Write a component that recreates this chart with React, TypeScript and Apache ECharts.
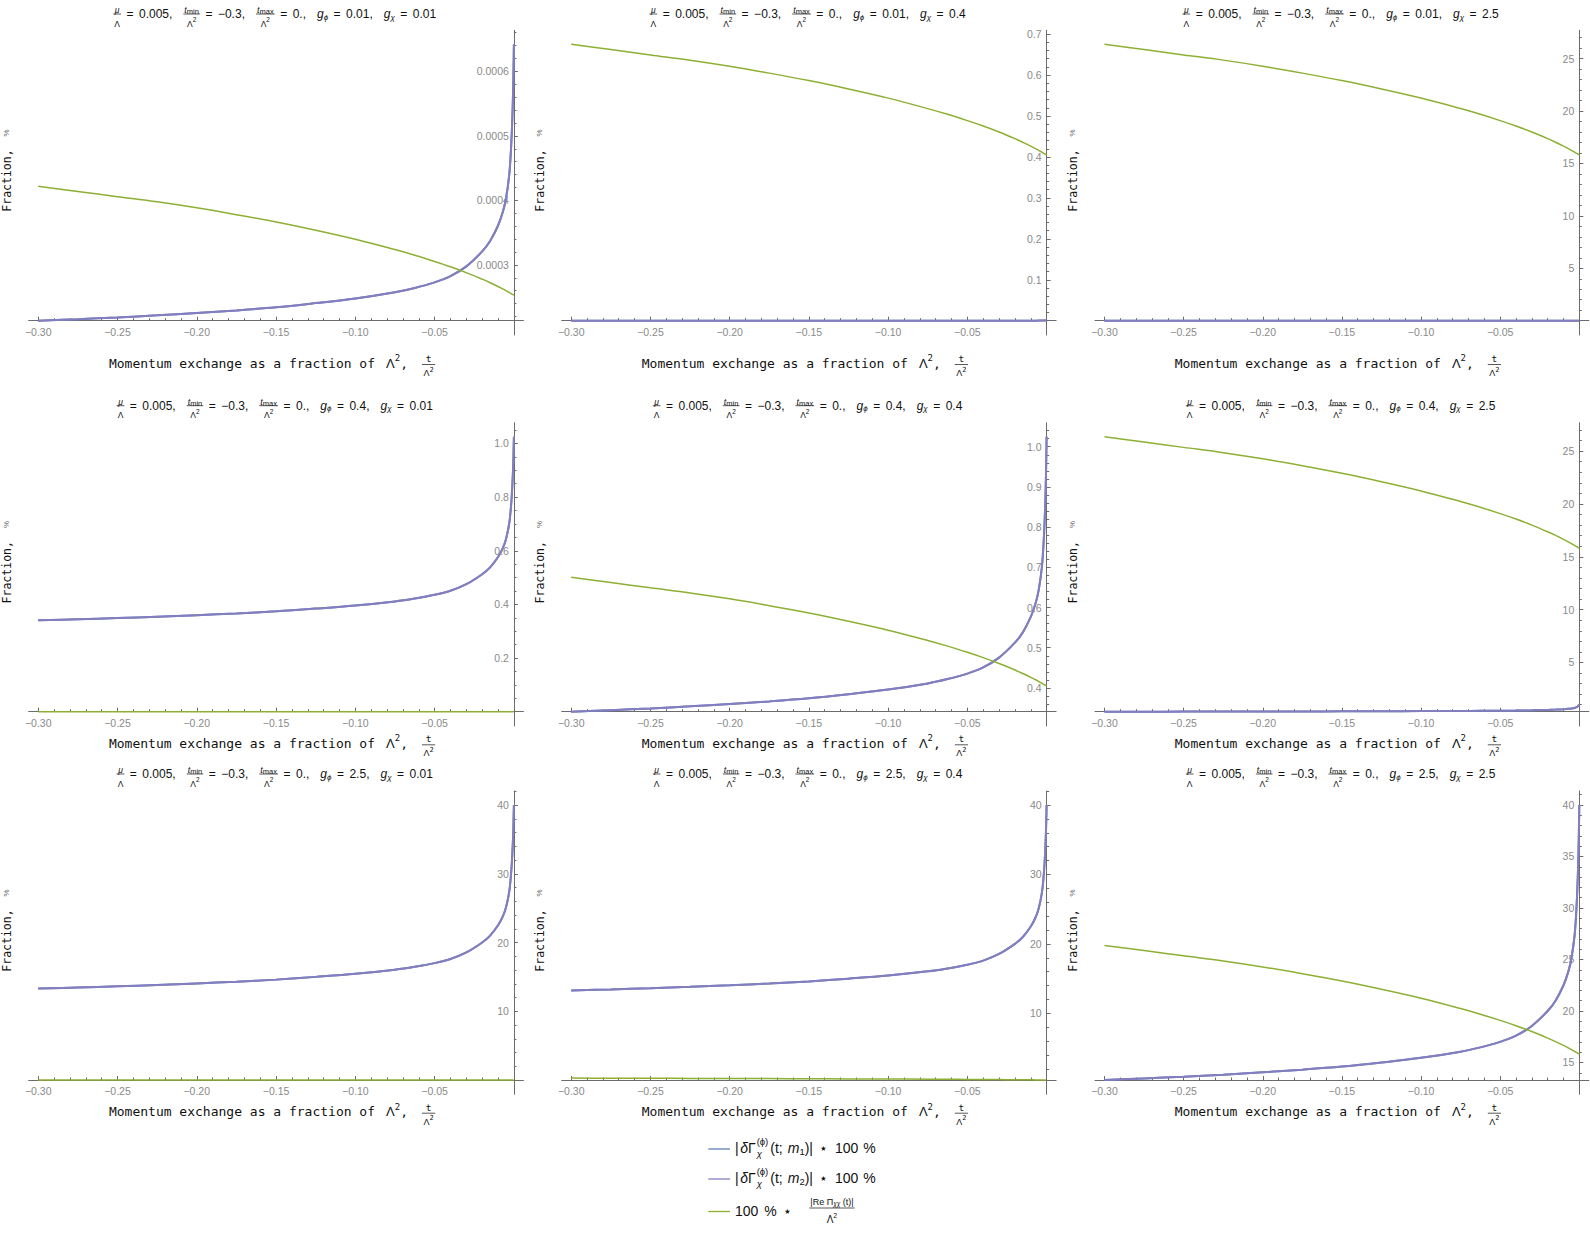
import React, { useEffect, useRef } from "react";
import * as echarts from "echarts";

// ---------------- values ----------------
const tValues = [
  -0.3, -0.275, -0.25, -0.225, -0.2, -0.175, -0.15, -0.125, -0.1, -0.075, -0.0625,
  -0.05, -0.04, -0.03, -0.02, -0.015, -0.01, -0.007, -0.005, -0.003, -0.002,
  -0.0013, -0.0008, -0.0004, -0.0002, 0,
];

// |δΓχ(ϕ)(t; m)| * 100 %  (depends on g_ϕ : one curve per row)
const purpleGphi001 = [
  0.0002135, 0.0002159, 0.0002186, 0.0002218, 0.0002255, 0.0002295, 0.0002343, 0.0002408, 0.000248, 0.0002576, 0.0002643,
  0.0002729, 0.0002825, 0.0002977, 0.000321, 0.000337, 0.0003611, 0.000382, 0.0004029, 0.0004382, 0.0004719,
  0.0005072, 0.0005425, 0.000581, 0.0006083, 0.000642,
];
const purpleGphi04 = [
  0.3409, 0.3447, 0.3491, 0.3542, 0.3601, 0.3665, 0.3742, 0.3844, 0.396, 0.4113, 0.4221,
  0.4357, 0.4511, 0.4754, 0.5126, 0.5382, 0.5766, 0.61, 0.6433, 0.6996, 0.7535,
  0.8098, 0.8662, 0.9277, 0.9713, 1.025,
];
const purpleGphi25 = [
  13.3, 13.45, 13.62, 13.82, 14.05, 14.3, 14.6, 15.0, 15.45, 16.05, 16.47,
  17.0, 17.6, 18.55, 20.0, 21.0, 22.5, 23.8, 25.1, 27.3, 29.4,
  31.6, 33.8, 36.2, 37.9, 40.0,
];

// 100 % * |Re Πχχ(t)| / Λ²  (depends on g_χ : one curve per column)
const greenGchi001 = [
  0.0004219, 0.0004139, 0.0004058, 0.0003978, 0.0003885, 0.0003779, 0.0003666, 0.0003538, 0.0003398, 0.0003238, 0.000315,
  0.0003054, 0.0002972, 0.0002881, 0.0002779, 0.0002724, 0.0002665, 0.0002627, 0.0002601, 0.0002573, 0.0002559,
  0.0002549, 0.0002542, 0.0002536, 0.0002533, 0.000253,
];
const greenGchi04 = [
  0.6751, 0.6623, 0.6492, 0.6364, 0.6216, 0.6047, 0.5865, 0.566, 0.5437, 0.5181, 0.5041,
  0.4887, 0.4755, 0.4609, 0.4447, 0.4358, 0.4264, 0.4204, 0.4161, 0.4117, 0.4094,
  0.4078, 0.4067, 0.4057, 0.4052, 0.4047,
];
const greenGchi25 = [
  26.37, 25.87, 25.36, 24.86, 24.28, 23.62, 22.91, 22.11, 21.24, 20.24, 19.69,
  19.09, 18.575, 18.005, 17.37, 17.024, 16.655, 16.42, 16.255, 16.083, 15.994,
  15.931, 15.885, 15.848, 15.829, 15.81,
];

const gPhiLabels = ["0.01", "0.4", "2.5"];
const gChiLabels = ["0.01", "0.4", "2.5"];

const xMajorTicks = [-0.3, -0.25, -0.2, -0.15, -0.1, -0.05];
const xMinorTicks = [
  -0.29, -0.28, -0.27, -0.26, -0.24, -0.23, -0.22, -0.21, -0.19, -0.18, -0.17, -0.16,
  -0.14, -0.13, -0.12, -0.11, -0.09, -0.08, -0.07, -0.06, -0.04, -0.03, -0.02, -0.01,
];

const yMajorTicks = [
  [0.0003, 0.0004, 0.0005, 0.0006],
  [0.1, 0.2, 0.3, 0.4, 0.5, 0.6, 0.7],
  [5, 10, 15, 20, 25],
  [0.2, 0.4, 0.6, 0.8, 1.0],
  [0.4, 0.5, 0.6, 0.7, 0.8, 0.9, 1.0],
  [5, 10, 15, 20, 25],
  [10, 20, 30, 40],
  [10, 20, 30, 40],
  [15, 20, 25, 30, 35, 40],
];
const yMinorStep = [0.00002, 0.02, 1, 0.05, 0.02, 1, 2, 2, 1];
const yLabelDecimals = [4, 1, 0, 1, 1, 0, 0, 0, 0];

const seriesNames = ["|δΓχ(ϕ)(t; m1)| * 100 %", "|δΓχ(ϕ)(t; m2)| * 100 %", "100 % * |Re Πχχ(t)| / Λ²"];

// ---------------- styling / layout ----------------
const W = 1590;
const H = 1233;
const FONT_SANS = "'Liberation Sans', Arial, Helvetica, sans-serif";
const FONT_MONO = "'DejaVu Sans Mono', 'Liberation Mono', monospace";
const COLOR_M1 = "#5E81B5";
const COLOR_M2 = "#847DC0";
const COLOR_GREEN = "#8DB034";
const AXIS_COLOR = "#6b6b6b";
const LABEL_COLOR = "#8a8a8a";
const TEXT_COLOR = "#111";

const X_MIN = -0.306;
const X_MAX = 0.006;
const colL = [38.2, 571.2, 1104.5];
const colR = [513.9, 1046.6, 1579.3];
const rowMaxPx = [44.3, 436.7, 805.0];
const rowMinPx = [320.7, 711.7, 1080.0];
const PAD_TOP = 14;
const PAD_BOT = 14.3;
const titleY = [14, 405.7, 774];
const xNameY = [363, 743.3, 1111.7];
const legendTextY = [1148, 1178, 1210.5];
const legendLineX = [708.3, 730];
const legendTextX = 735;

// ---------------- text layout helpers ----------------
type Atom = { t: string; size: number; it?: boolean; dy?: number; fam?: string; fill?: string; gap?: number; stack?: boolean };
type Piece =
  | { kind: "run"; run: Atom[]; gap?: number }
  | { kind: "frac"; num: Atom[]; den: Atom[]; numDy: number; denDy: number; barDy: number; pad?: number; gap?: number };

let measureCtx: CanvasRenderingContext2D | null = null;
function fontOf(a: Atom) {
  return `${a.it ? "italic " : ""}${a.size}px ${a.fam || FONT_SANS}`;
}
function measure(text: string, font: string) {
  if (!measureCtx) measureCtx = document.createElement("canvas").getContext("2d");
  if (!measureCtx) return text.length * 6;
  measureCtx.font = font;
  return measureCtx.measureText(text).width;
}
function runWidth(run: Atom[]) {
  let x = 0;
  let hold = 0;
  for (const a of run) {
    x += a.gap || 0;
    const w = measure(a.t, fontOf(a));
    if (a.stack) hold = Math.max(hold, w);
    else {
      x += Math.max(w, hold);
      hold = 0;
    }
  }
  return x + hold;
}
function textEl(t: string, x: number, y: number, font: string, fill: string) {
  return {
    type: "text",
    x,
    y,
    silent: true,
    style: { text: t, font, fill, textAlign: "left", textVerticalAlign: "middle", align: "left", verticalAlign: "middle" },
  };
}
function drawRun(run: Atom[], x0: number, y: number, out: any[], fill: string) {
  let x = x0;
  let hold = 0;
  for (const a of run) {
    x += a.gap || 0;
    const font = fontOf(a);
    const w = measure(a.t, font);
    out.push(textEl(a.t, x, y + (a.dy || 0), font, a.fill || fill));
    if (a.stack) hold = Math.max(hold, w);
    else {
      x += Math.max(w, hold);
      hold = 0;
    }
  }
  return x + hold - x0;
}
function pieceWidth(p: Piece) {
  if (p.kind === "run") return (p.gap || 0) + runWidth(p.run);
  return (p.gap || 0) + Math.max(runWidth(p.num), runWidth(p.den)) + 2 * (p.pad ?? 1);
}
function drawLine(pieces: Piece[], x0: number, y: number, out: any[], fill: string) {
  let x = x0;
  for (const p of pieces) {
    x += p.gap || 0;
    if (p.kind === "run") {
      x += drawRun(p.run, x, y, out, fill);
    } else {
      const nw = runWidth(p.num);
      const dw = runWidth(p.den);
      const pad = p.pad ?? 1;
      const w = Math.max(nw, dw) + 2 * pad;
      drawRun(p.num, x + (w - nw) / 2, y + p.numDy, out, fill);
      drawRun(p.den, x + (w - dw) / 2, y + p.denDy, out, fill);
      out.push({
        type: "line",
        silent: true,
        shape: { x1: x, y1: y + p.barDy, x2: x + w, y2: y + p.barDy },
        style: { stroke: fill, lineWidth: 0.7 },
      });
      x += w;
    }
  }
  return x - x0;
}
function drawCentered(pieces: Piece[], cx: number, y: number, out: any[], fill: string) {
  const total = pieces.reduce((s, p) => s + pieceWidth(p), 0);
  drawLine(pieces, cx - total / 2, y, out, fill);
}

function titlePieces(gphi: string, gchi: string): Piece[] {
  const s = 12;
  const gE = 5.5;
  const gC = 11;
  const lam2 = (sz: number): Atom[] => [{ t: "Λ", size: sz }, { t: "2", size: 6.5, dy: -4 }];
  return [
    { kind: "frac", num: [{ t: "μ", size: 8.5, it: true }], den: [{ t: "Λ", size: 8.5 }], numDy: -4, denDy: 9.5, barDy: 0, pad: 1 },
    { kind: "run", run: [{ t: "=", size: s, gap: gE }, { t: "0.005,", size: s, gap: gE }] },
    { kind: "frac", gap: gC, num: [{ t: "t", size: 9, it: true }, { t: "min", size: 7.5, dy: 1.5 }], den: lam2(8.5), numDy: -4, denDy: 9.5, barDy: 0, pad: 1 },
    { kind: "run", run: [{ t: "=", size: s, gap: gE }, { t: "\u22120.3,", size: s, gap: gE }] },
    { kind: "frac", gap: gC, num: [{ t: "t", size: 9, it: true }, { t: "max", size: 7.5, dy: 1.5 }], den: lam2(8.5), numDy: -4, denDy: 9.5, barDy: 0, pad: 1 },
    { kind: "run", run: [{ t: "=", size: s, gap: gE }, { t: "0.,", size: s, gap: gE }] },
    { kind: "run", gap: gC, run: [{ t: "g", size: s, it: true }, { t: "ϕ", size: 8, it: true, dy: 3 }] },
    { kind: "run", run: [{ t: "=", size: s, gap: gE }, { t: gphi + ",", size: s, gap: gE }] },
    { kind: "run", gap: gC, run: [{ t: "g", size: s, it: true }, { t: "χ", size: 8, it: true, dy: 3 }] },
    { kind: "run", run: [{ t: "=", size: s, gap: gE }, { t: gchi, size: s, gap: gE }] },
  ];
}

function xNamePieces(): Piece[] {
  const s = 13;
  return [
    {
      kind: "run",
      run: [
        { t: "Momentum exchange as a fraction of", size: s, fam: FONT_MONO },
        { t: "Λ", size: s, gap: 11 },
        { t: "2", size: 9, fam: FONT_MONO, dy: -5 },
        { t: ",", size: s, fam: FONT_MONO },
      ],
    },
    {
      kind: "frac",
      gap: 14,
      num: [{ t: "t", size: 9.5, fam: FONT_MONO }],
      den: [{ t: "Λ", size: 9 }, { t: "2", size: 7, fam: FONT_MONO, dy: -3.5 }],
      numDy: -4.5,
      denDy: 10,
      barDy: 1.5,
      pad: 1.5,
    },
  ];
}

function minorTicks(step: number, lo: number, hi: number, majors: number[]) {
  const out: number[] = [];
  const k0 = Math.ceil(lo / step - 1e-9);
  const k1 = Math.floor(hi / step + 1e-9);
  for (let k = k0; k <= k1; k++) {
    const v = +(k * step).toPrecision(10);
    if (!majors.some((m) => Math.abs(m - v) < step * 1e-3)) out.push(v);
  }
  return out;
}

const fmtX = (v: number) => (v < 0 ? "\u2212" : "") + Math.abs(v).toFixed(2);

function buildOption(): any {
  const purpleByRow = [purpleGphi001, purpleGphi04, purpleGphi25];
  const greenByCol = [greenGchi001, greenGchi04, greenGchi25];
  const grid: any[] = [];
  const xAxis: any[] = [];
  const yAxis: any[] = [];
  const series: any[] = [];
  const elements: any[] = [];
  const lineStyleAxis = { color: AXIS_COLOR, width: 1 };
  const labelStyle = { color: LABEL_COLOR, fontSize: 10.5, fontFamily: FONT_SANS };

  for (let r = 0; r < 3; r++) {
    for (let c = 0; c < 3; c++) {
      const i = r * 3 + c;
      const purple = purpleByRow[r];
      const green = greenByCol[c];
      const all = purple.concat(green);
      const dMax = Math.max(...all);
      const dMin = Math.min(...all);
      const scale = (rowMinPx[r] - rowMaxPx[r]) / (dMax - dMin);
      const yHi = dMax + PAD_TOP / scale;
      const yLo = dMin - PAD_BOT / scale;
      const L = colL[c];
      const R = colR[c];
      const pxPerX = (R - L) / 0.3;
      const left = L + (X_MIN + 0.3) * pxPerX;
      const width = (X_MAX - X_MIN) * pxPerX;
      const top = rowMaxPx[r] - PAD_TOP;
      const height = rowMinPx[r] + PAD_BOT - top;
      // y axis sits at t = 0, i.e. this many px inside the grid's right edge
      const yAxisOffset = -(X_MAX - 0) * pxPerX;
      grid.push({ left, top, width, height, show: false, containLabel: false, outerBoundsMode: "none" });

      xAxis.push({
        gridIndex: i, type: "value", min: X_MIN, max: X_MAX, position: "bottom", offset: -PAD_BOT,
        axisLine: { show: true, onZero: false, lineStyle: lineStyleAxis },
        axisTick: { show: true, inside: true, length: 4, customValues: xMajorTicks, lineStyle: lineStyleAxis },
        axisLabel: { show: true, customValues: xMajorTicks, margin: 5.5, formatter: fmtX, ...labelStyle },
        splitLine: { show: false }, minorTick: { show: false }, minorSplitLine: { show: false },
      });
      xAxis.push({
        gridIndex: i, type: "value", min: X_MIN, max: X_MAX, position: "bottom", offset: -PAD_BOT,
        axisLine: { show: false, onZero: false },
        axisTick: { show: true, inside: true, length: 2.5, customValues: xMinorTicks, lineStyle: lineStyleAxis },
        axisLabel: { show: false }, splitLine: { show: false },
      });

      const majors = yMajorTicks[i];
      const minors = minorTicks(yMinorStep[i], dMin, yHi, majors);
      const dec = yLabelDecimals[i];
      yAxis.push({
        gridIndex: i, type: "value", min: yLo, max: yHi, position: "right", offset: yAxisOffset,
        axisLine: { show: true, onZero: false, lineStyle: lineStyleAxis },
        axisTick: { show: true, inside: false, length: 4, customValues: majors, lineStyle: lineStyleAxis },
        axisLabel: { show: true, inside: true, customValues: majors, margin: 5, formatter: (v: number) => v.toFixed(dec), ...labelStyle },
        splitLine: { show: false }, minorTick: { show: false },
      });
      yAxis.push({
        gridIndex: i, type: "value", min: yLo, max: yHi, position: "right", offset: yAxisOffset,
        axisLine: { show: false, onZero: false },
        axisTick: { show: true, inside: false, length: 2.5, customValues: minors, lineStyle: lineStyleAxis },
        axisLabel: { show: false }, splitLine: { show: false },
      });

      const pairs = (arr: number[]) => tValues.map((t, k) => [t, arr[k]]);
      const common = {
        type: "line", xAxisIndex: 2 * i, yAxisIndex: 2 * i, showSymbol: false, symbol: "none",
        smooth: 0.35, silent: true, emphasis: { disabled: true }, clip: true,
      };
      series.push({ ...common, name: seriesNames[0], data: pairs(purple), lineStyle: { color: COLOR_M1, width: 2 }, itemStyle: { color: COLOR_M1 }, z: 3 });
      series.push({ ...common, name: seriesNames[1], data: pairs(purple), lineStyle: { color: COLOR_M2, width: 2 }, itemStyle: { color: COLOR_M2 }, z: 4 });
      series.push({ ...common, name: seriesNames[2], data: pairs(green), lineStyle: { color: COLOR_GREEN, width: 1.5 }, itemStyle: { color: COLOR_GREEN }, z: 5 });

      // panel title
      drawCentered(titlePieces(gPhiLabels[r], gChiLabels[c]), (L + R) / 2 - 1.3, titleY[r], elements, TEXT_COLOR);
      // x axis name
      drawCentered(xNamePieces(), (L + R) / 2 - 4, xNameY[r], elements, TEXT_COLOR);
      // y axis name (rotated)
      const fAtom: Atom = { t: "Fraction,", size: 11.5, fam: FONT_MONO };
      const pAtom: Atom = { t: "%", size: 8 };
      const fw = measure(fAtom.t, fontOf(fAtom));
      const pw = measure(pAtom.t, fontOf(pAtom));
      const gapP = 13;
      const tot = fw + gapP + pw;
      elements.push({
        type: "group",
        x: L - 31.5,
        y: (rowMaxPx[r] + rowMinPx[r]) / 2 - 12,
        rotation: Math.PI / 2,
        silent: true,
        children: [
          textEl(fAtom.t, -tot / 2, 0, fontOf(fAtom), TEXT_COLOR),
          textEl(pAtom.t, -tot / 2 + fw + gapP, -0.5, fontOf(pAtom), "#666"),
        ],
      });
    }
  }

  // legend
  const LS = 14;
  const legendColors = [COLOR_M1, COLOR_M2, COLOR_GREEN];
  const entryRun = (idx: string): Atom[] => [
    { t: "|", size: LS },
    { t: "δ", size: LS, it: true, gap: 1.5 },
    { t: "Γ", size: LS },
    { t: "χ", size: 9.5, it: true, dy: 5.5, stack: true, gap: 1 },
    { t: "(ϕ)", size: 9.5, dy: -6.5 },
    { t: "(t;", size: LS, gap: 2 },
    { t: "m", size: LS, it: true, gap: 5 },
    { t: idx, size: 9.5, dy: 3.5 },
    { t: ")|", size: LS },
    { t: "⋆", size: LS, gap: 6.5 },
    { t: "100", size: LS, gap: 6.5 },
    { t: "%", size: LS, gap: 5 },
  ];
  const legendPieces: Piece[][] = [
    [{ kind: "run", run: entryRun("1") }],
    [{ kind: "run", run: entryRun("2") }],
    [
      { kind: "run", run: [{ t: "100", size: LS }, { t: "%", size: LS, gap: 6 }, { t: "⋆", size: LS, gap: 6.5 }] },
      {
        kind: "frac",
        gap: 17,
        num: [{ t: "|Re Π", size: 9 }, { t: "χχ", size: 6.5, it: true, dy: 2 }, { t: " (t)|", size: 9 }],
        den: [{ t: "Λ", size: 10 }, { t: "2", size: 7, dy: -4 }],
        numDy: -9,
        denDy: 8.5,
        barDy: -2.5,
        pad: 1,
      },
    ],
  ];
  for (let k = 0; k < 3; k++) {
    const y = legendTextY[k];
    elements.push({
      type: "line",
      silent: true,
      shape: { x1: legendLineX[0], y1: y + 1, x2: legendLineX[1], y2: y + 1 },
      style: { stroke: legendColors[k], lineWidth: 1.3 },
    });
    drawLine(legendPieces[k], legendTextX, y, elements, TEXT_COLOR);
  }

  return {
    animation: false,
    backgroundColor: "#ffffff",
    grid,
    xAxis,
    yAxis,
    series,
    graphic: { elements },
  };
}

export default function App() {
  const ref = useRef<HTMLDivElement>(null);
  useEffect(() => {
    if (!ref.current) return;
    const chart = echarts.init(ref.current, null, { renderer: "svg" });
    chart.setOption(buildOption());
    return () => {
      chart.dispose();
    };
  }, []);
  return (
    <div
      ref={ref}
      style={{ position: "absolute", left: 0, top: 0, width: W, height: H, background: "#fff" }}
    />
  );
}
